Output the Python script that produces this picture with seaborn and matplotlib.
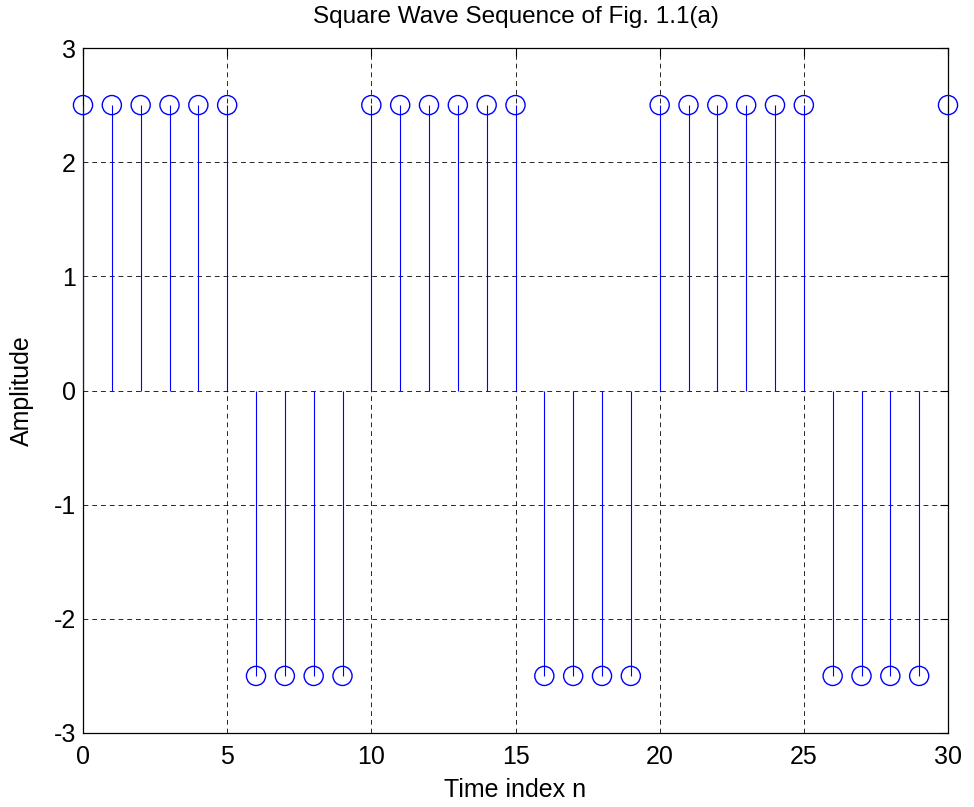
import numpy as np
import pandas as pd
import matplotlib
matplotlib.use("Agg")
import matplotlib.pyplot as plt
import seaborn as sns

# Square wave samples, n = 0..30
n = list(range(31))
amplitude = [2.5, 2.5, 2.5, 2.5, 2.5, 2.5,
             -2.5, -2.5, -2.5, -2.5,
             2.5, 2.5, 2.5, 2.5, 2.5, 2.5,
             -2.5, -2.5, -2.5, -2.5,
             2.5, 2.5, 2.5, 2.5, 2.5, 2.5,
             -2.5, -2.5, -2.5, -2.5,
             2.5]
x_ticks = [0, 5, 10, 15, 20, 25, 30]
y_ticks = [-3, -2, -1, 0, 1, 2, 3]

sns.set_style("white")
plt.rcParams["font.family"] = ["Liberation Sans", "DejaVu Sans"]
plt.rcParams["axes.unicode_minus"] = False
plt.rcParams["text.color"] = "black"
plt.rcParams["axes.labelcolor"] = "black"

df = pd.DataFrame({"n": n, "amp": amplitude})

fig = plt.figure(figsize=(9.74, 8.07), dpi=100)
ax = fig.add_axes([83 / 974, 1 - 733 / 807, (948 - 83) / 974, (733 - 48) / 807])

# grid
ax.set_axisbelow(True)
ax.grid(True, color="black", linestyle=(0, (5, 4)), linewidth=0.7, alpha=0.85)

# stems
ax.vlines(df["n"], 0, df["amp"], color="#0000ff", linewidth=0.8, zorder=3)
# circle markers
sns.scatterplot(data=df, x="n", y="amp", ax=ax, marker="o", s=190,
                facecolor="none", edgecolor="#0000ff", linewidth=1.0,
                zorder=4, clip_on=False, legend=False)

ax.set_xlim(0, 30)
ax.set_ylim(-3, 3)
ax.set_xticks(x_ticks)
ax.set_yticks(y_ticks)
ax.set_yticklabels([str(v) for v in y_ticks])
ax.tick_params(direction="in", length=6, width=0.8, labelsize=18,
               top=True, right=True, pad=5, colors="black")
ax.tick_params(axis="x", pad=9)
for s in ax.spines.values():
    s.set_visible(True)
    s.set_color("black")
    s.set_linewidth(0.9)

ax.set_xlabel("Time index n", fontsize=18, labelpad=6)
ax.set_ylabel("Amplitude", fontsize=18, labelpad=14)
ax.set_title("Square Wave Sequence of Fig. 1.1(a)", fontsize=17.5, pad=18)

fig.savefig("out.png", dpi=100)
